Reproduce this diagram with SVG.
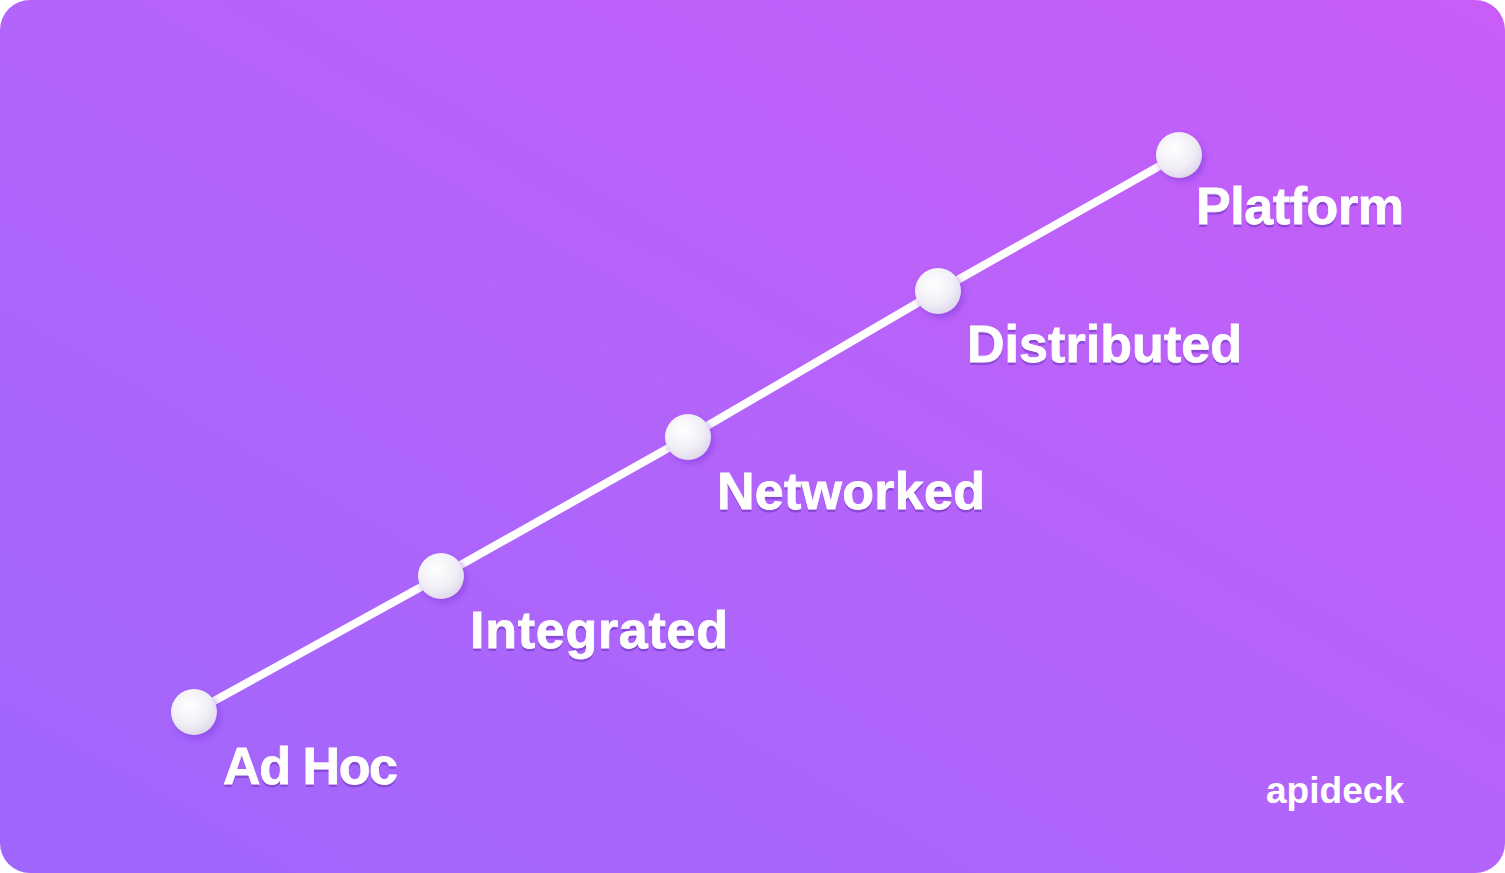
<svg xmlns="http://www.w3.org/2000/svg" width="1505" height="873" viewBox="0 0 1505 873">
<defs>
<linearGradient id="bg" x1="0" y1="1" x2="1" y2="0">
<stop offset="0" stop-color="#9f66fc"/>
<stop offset="0.5" stop-color="#b364fa"/>
<stop offset="1" stop-color="#c95df8"/>
</linearGradient>
<radialGradient id="ball" cx="0.4" cy="0.35" r="0.7">
<stop offset="0" stop-color="#ffffff"/>
<stop offset="0.6" stop-color="#f1eff6"/>
<stop offset="1" stop-color="#dcd6ea"/>
</radialGradient>
<filter id="glow" x="-50%" y="-50%" width="200%" height="200%">
<feGaussianBlur stdDeviation="3"/>
</filter>
</defs>
<style>
.lbl{font-family:"Liberation Sans",Arial,sans-serif;font-weight:bold;font-size:52px;fill:#ffffff;stroke:#ffffff;stroke-width:0.8}
.sh{font-family:"Liberation Sans",Arial,sans-serif;font-weight:bold;font-size:52px;fill:#7b3fc9;opacity:0.7}
.ball{fill:url(#ball)}
.bsh{fill:#8a3fe0;opacity:0.6}
</style>
<rect x="0" y="0" width="1505" height="873" rx="30" ry="30" fill="url(#bg)"/>
<g id="connectors">
<polyline points="194,712 441,576 688,437 938,291 1179,155" fill="none" stroke="#ffffff" stroke-width="8" stroke-linecap="round"/>
</g>
<g id="adhoc">
<circle class="bsh" cx="197" cy="716" r="23" filter="url(#glow)"/>
<circle class="ball" cx="194" cy="712" r="23"/>
<text class="sh" x="223" y="787" textLength="175">Ad Hoc</text>
<text class="lbl" x="223" y="784" textLength="175">Ad Hoc</text>
</g>
<g id="integrated">
<circle class="bsh" cx="444" cy="580" r="23" filter="url(#glow)"/>
<circle class="ball" cx="441" cy="576" r="23"/>
<text class="sh" x="470" y="651" textLength="258">Integrated</text>
<text class="lbl" x="470" y="648" textLength="258">Integrated</text>
</g>
<g id="networked">
<circle class="bsh" cx="691" cy="441" r="23" filter="url(#glow)"/>
<circle class="ball" cx="688" cy="437" r="23"/>
<text class="sh" x="717" y="512" textLength="268">Networked</text>
<text class="lbl" x="717" y="509" textLength="268">Networked</text>
</g>
<g id="distributed">
<circle class="bsh" cx="941" cy="295" r="23" filter="url(#glow)"/>
<circle class="ball" cx="938" cy="291" r="23"/>
<text class="sh" x="967" y="365" textLength="275">Distributed</text>
<text class="lbl" x="967" y="362" textLength="275">Distributed</text>
</g>
<g id="platform">
<circle class="bsh" cx="1182" cy="159" r="23" filter="url(#glow)"/>
<circle class="ball" cx="1179" cy="155" r="23"/>
<text class="sh" x="1196" y="227" textLength="208">Platform</text>
<text class="lbl" x="1196" y="224" textLength="208">Platform</text>
</g>
<g id="logo">
<text x="1266" y="803" font-family="'Liberation Sans',Arial,sans-serif" font-weight="bold" font-size="36" fill="#ffffff" textLength="138" lengthAdjust="spacingAndGlyphs">apideck</text>
</g>
</svg>
